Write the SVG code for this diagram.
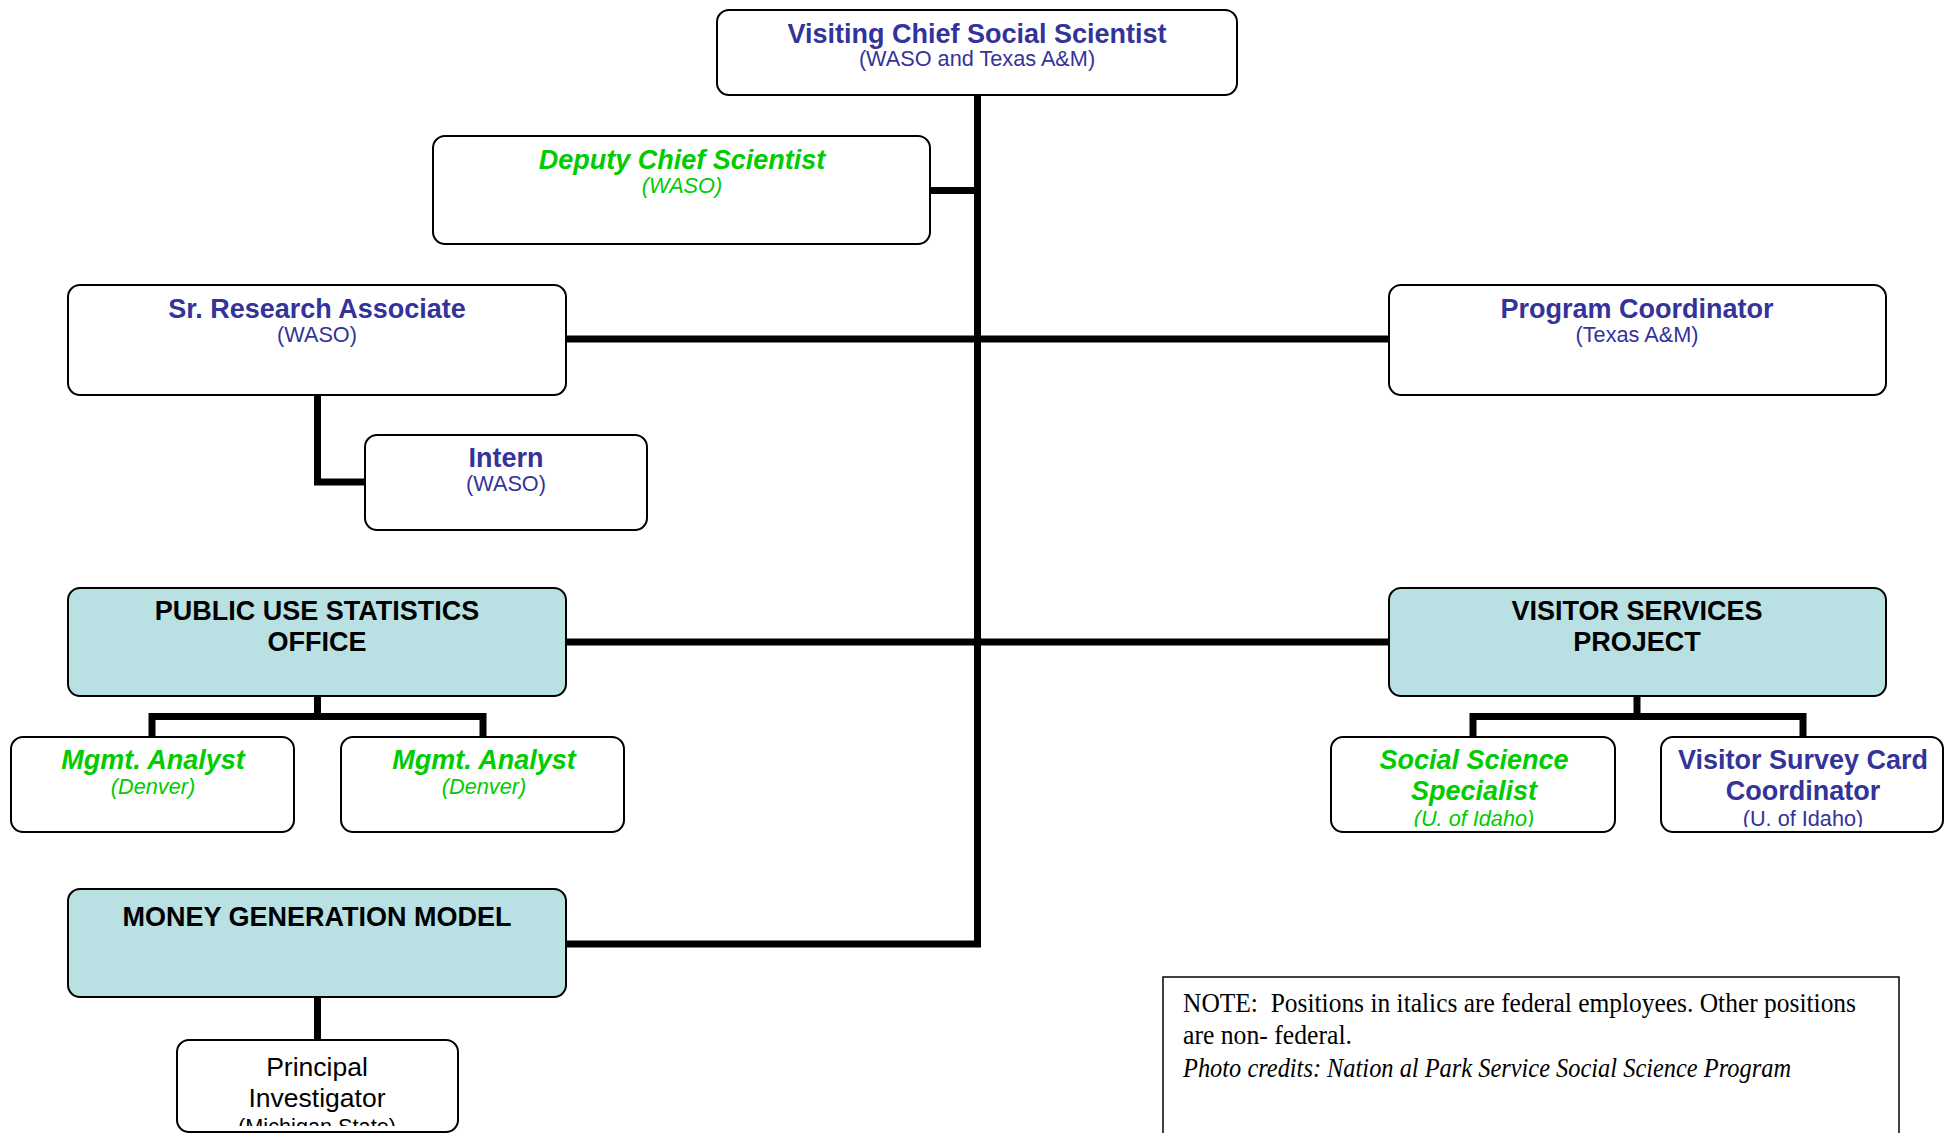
<svg xmlns="http://www.w3.org/2000/svg" width="1952" height="1133" viewBox="0 0 1952 1133">
<style>
.box{fill:#ffffff;stroke:#000;stroke-width:2}
.hdr{fill:#b9e0e3;stroke:#000;stroke-width:2}
.con{fill:none;stroke:#000;stroke-width:7;stroke-linejoin:miter;stroke-linecap:square}
text{font-family:"Liberation Sans",Arial,sans-serif;text-anchor:middle}
.t{font-size:27px;font-weight:bold}
.s{font-size:21.7px}
.blue{fill:#333399}
.green{fill:#00cc00;font-style:italic}
.blk{fill:#000}
.note{font-family:"Liberation Serif","Times New Roman",serif;font-size:27px;text-anchor:start;fill:#000;white-space:pre}
</style>
<defs>
<clipPath id="clipSSS"><rect x="1331" y="737" width="284" height="90"/></clipPath>
<clipPath id="clipVSC"><rect x="1661" y="737" width="282" height="90"/></clipPath>
<clipPath id="clipPI"><rect x="177" y="1040" width="281" height="86"/></clipPath>
</defs>
<g id="connectors">
<path class="con" d="M977.5 95 V944 H566"/>
<path class="con" d="M930 190.5 H977"/>
<path class="con" d="M566 339 H1389"/>
<path class="con" d="M566 642 H1389"/>
<path class="con" d="M317.5 395 V482 H365"/>
<path class="con" d="M317.5 696 V716.5"/>
<path class="con" d="M152 737 V716.5 H483 V737"/>
<path class="con" d="M1637 696 V716.5"/>
<path class="con" d="M1473 737 V716.5 H1803 V737"/>
<path class="con" d="M317.5 997 V1040"/>
</g>
<g id="visiting-chief">
<rect class="box" x="717" y="10" width="520" height="85" rx="12"/>
<text class="t blue" x="977" y="43">Visiting Chief Social Scientist</text>
<text class="s blue" x="977" y="66">(WASO and Texas A&amp;M)</text>
</g>
<g id="deputy-chief">
<rect class="box" x="433" y="136" width="497" height="108" rx="12"/>
<text class="t green" x="682" y="169">Deputy Chief Scientist</text>
<text class="s green" x="682" y="193">(WASO)</text>
</g>
<g id="sr-research">
<rect class="box" x="68" y="285" width="498" height="110" rx="12"/>
<text class="t blue" x="317" y="318">Sr. Research Associate</text>
<text class="s blue" x="317" y="342">(WASO)</text>
</g>
<g id="program-coordinator">
<rect class="box" x="1389" y="285" width="497" height="110" rx="12"/>
<text class="t blue" x="1637" y="318">Program Coordinator</text>
<text class="s blue" x="1637" y="342">(Texas A&amp;M)</text>
</g>
<g id="intern">
<rect class="box" x="365" y="435" width="282" height="95" rx="12"/>
<text class="t blue" x="506" y="467">Intern</text>
<text class="s blue" x="506" y="491">(WASO)</text>
</g>
<g id="public-use-statistics">
<rect class="hdr" x="68" y="588" width="498" height="108" rx="12"/>
<text class="t blk" x="317" y="620">PUBLIC USE STATISTICS</text>
<text class="t blk" x="317" y="651">OFFICE</text>
</g>
<g id="visitor-services">
<rect class="hdr" x="1389" y="588" width="497" height="108" rx="12"/>
<text class="t blk" x="1637" y="620">VISITOR SERVICES</text>
<text class="t blk" x="1637" y="651">PROJECT</text>
</g>
<g id="mgmt-analyst-1">
<rect class="box" x="11" y="737" width="283" height="95" rx="12"/>
<text class="t green" x="153" y="769">Mgmt. Analyst</text>
<text class="s green" x="153" y="794">(Denver)</text>
</g>
<g id="mgmt-analyst-2">
<rect class="box" x="341" y="737" width="283" height="95" rx="12"/>
<text class="t green" x="484" y="769">Mgmt. Analyst</text>
<text class="s green" x="484" y="794">(Denver)</text>
</g>
<g id="social-science-specialist">
<rect class="box" x="1331" y="737" width="284" height="95" rx="12"/>
<g clip-path="url(#clipSSS)">
<text class="t green" x="1474" y="769">Social Science</text>
<text class="t green" x="1474" y="800">Specialist</text>
<text class="s green" x="1474" y="826">(U. of Idaho)</text>
</g>
</g>
<g id="visitor-survey-card">
<rect class="box" x="1661" y="737" width="282" height="95" rx="12"/>
<g clip-path="url(#clipVSC)">
<text class="t blue" x="1803" y="769">Visitor Survey Card</text>
<text class="t blue" x="1803" y="800">Coordinator</text>
<text class="s blue" x="1803" y="826">(U. of Idaho)</text>
</g>
</g>
<g id="money-generation">
<rect class="hdr" x="68" y="889" width="498" height="108" rx="12"/>
<text class="t blk" x="317" y="926">MONEY GENERATION MODEL</text>
</g>
<g id="principal-investigator">
<rect class="box" x="177" y="1040" width="281" height="92" rx="12"/>
<g clip-path="url(#clipPI)">
<text class="blk" style="font-size:26.5px" x="317" y="1076">Principal</text>
<text class="blk" style="font-size:26.5px" x="317" y="1107">Investigator</text>
<text class="blk" style="font-size:21.7px" x="317" y="1134">(Michigan State)</text>
</g>
</g>
<g id="note">
<rect x="1163" y="977" width="736" height="180" fill="#fff" stroke="#000" stroke-width="1.5"/>
<text class="note" x="1183" y="1012" textLength="673" lengthAdjust="spacingAndGlyphs">NOTE:  Positions in italics are federal employees. Other positions</text>
<text class="note" x="1183" y="1044" textLength="169" lengthAdjust="spacingAndGlyphs">are non- federal.</text>
<text class="note" x="1183" y="1077" font-style="italic" textLength="608" lengthAdjust="spacingAndGlyphs">Photo credits: Nation al Park Service Social Science Program</text>
</g>
</svg>
